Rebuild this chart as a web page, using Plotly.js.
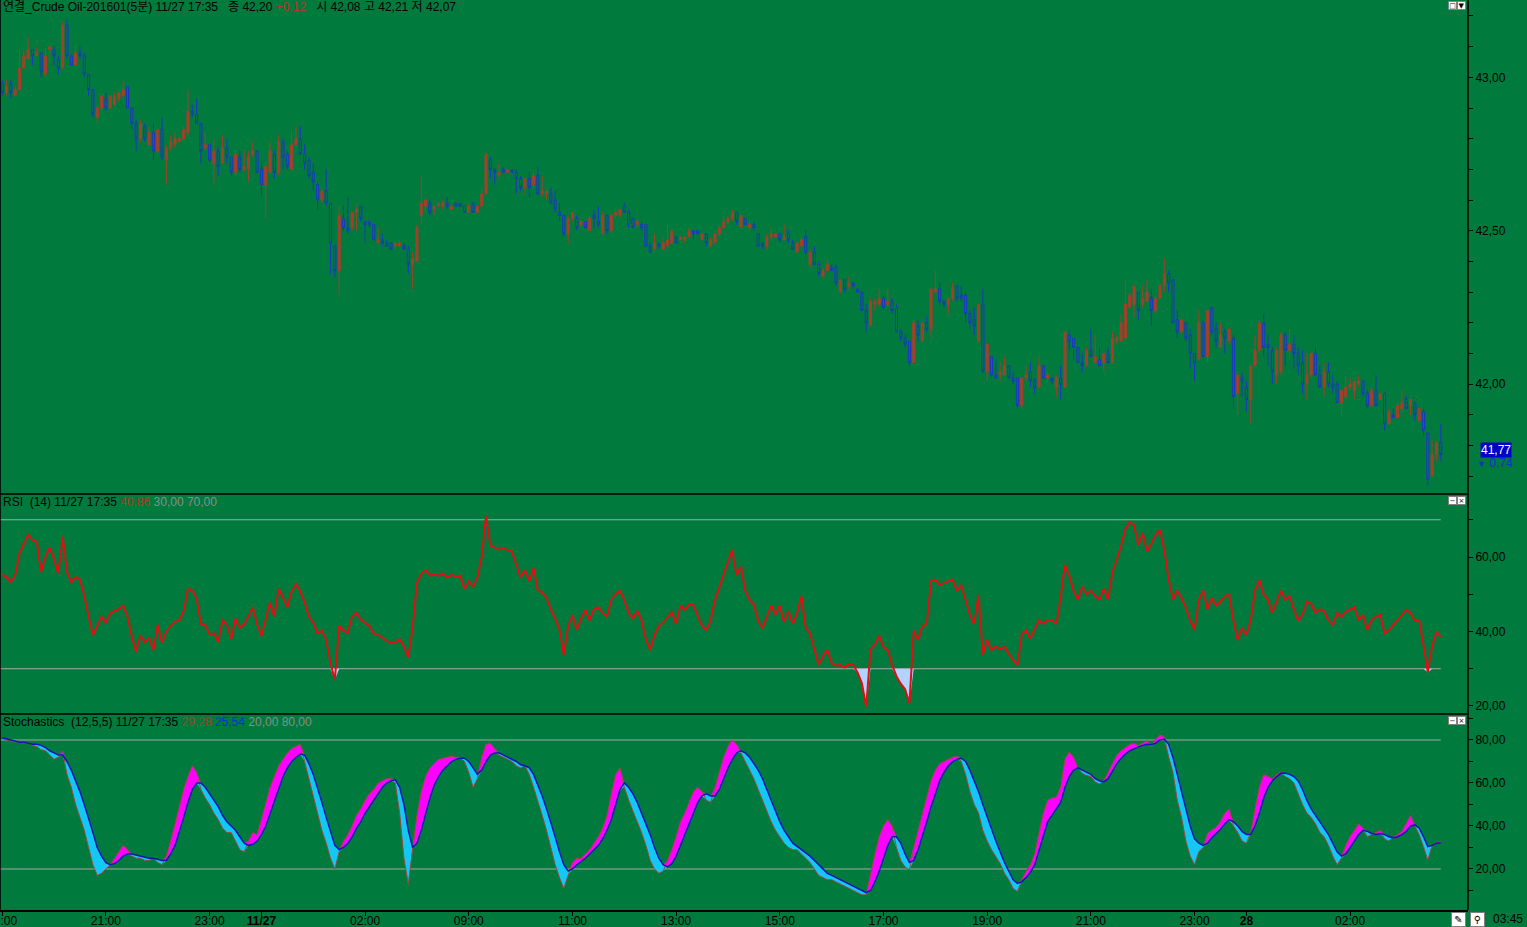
<!DOCTYPE html>
<html>
<head>
<meta charset="utf-8">
<script src="https://cdn.plot.ly/plotly-3.0.1.min.js"></script>
<style>
    html, body { margin: 0; padding: 0; background: #007A3D; }
    #chart { width: 1527px; height: 927px; }
</style>
</head>
<body>
<div id="chart"></div>
<script>
// 5-minute bars, 11/26 19:00 .. 11/28 03:45 (session break after 11/27 02:55)
const open = [
    42.98,42.95,42.98,42.94,42.96,43.03,43.06,43.09,43.07,43.08, 43.01,43.09,43.09,43.06,43.03,43.17,43.07,43.04,43.08,43.07,
    43.01,42.96,42.87,42.90,42.93,42.90,42.91,42.93,42.94,42.97, 42.90,42.85,42.80,42.84,42.78,42.82,42.76,42.83,42.73,42.77,
    42.78,42.79,42.80,42.82,42.89,42.88,42.85,42.77,42.78,42.72, 42.76,42.72,42.77,42.74,42.69,42.74,42.70,42.70,42.75,42.76,
    42.70,42.65,42.69,42.75,42.69,42.79,42.75,42.70,42.78,42.80, 42.75,42.73,42.69,42.65,42.60,42.63,42.59,42.45,42.37,42.54,
    42.51,42.51,42.56,42.58,42.53,42.53,42.52,42.46,42.47,42.46, 42.46,42.45,42.45,42.45,42.44,42.39,42.40,42.55,42.58,42.59,
    42.57,42.58,42.58,42.59,42.57,42.59,42.59,42.58,42.56,42.59, 42.56,42.58,42.62,42.73,42.70,42.68,42.70,42.69,42.70,42.69,
    42.67,42.64,42.67,42.65,42.68,42.62,42.62,42.62,42.60,42.56, 42.55,42.49,42.54,42.54,42.52,42.53,42.50,42.55,42.53,42.49,
    42.55,42.50,42.55,42.55,42.58,42.56,42.54,42.52,42.52,42.52, 42.45,42.44,42.46,42.44,42.45,42.46,42.48,42.47,42.47,42.48,
    42.50,42.50,42.47,42.49,42.45,42.46,42.49,42.51,42.53,42.54, 42.56,42.51,42.54,42.51,42.52,42.49,42.46,42.45,42.48,42.48,
    42.49,42.47,42.49,42.46,42.43,42.45,42.48,42.39,42.43,42.39, 42.35,42.37,42.38,42.38,42.30,42.34,42.32,42.33,42.31,42.30,
    42.24,42.19,42.26,42.26,42.28,42.26,42.27,42.25,42.17,42.15, 42.14,42.07,42.19,42.14,42.20,42.18,42.30,42.31,42.27,42.26,
    42.28,42.32,42.29,42.29,42.23,42.21,42.14,42.26,42.04,42.09, 42.03,42.03,42.03,42.06,42.02,42.02,41.93,42.02,42.04,42.01,
    41.99,42.06,42.02,42.02,41.99,42.02,41.99,42.16,42.15,42.12, 42.07,42.06,42.11,42.07,42.08,42.07,42.10,42.07,42.14,42.14,
    42.15,42.25,42.26,42.30,42.26,42.27,42.28,42.24,42.28,42.32, 42.36,42.34,42.21,42.17,42.20,42.16,42.10,42.08,42.20,42.09,
    42.25,42.18,42.12,42.17,42.14,42.15,41.97,42.02,41.99,41.95, 42.06,42.11,42.20,42.13,42.11,42.03,42.04,42.16,42.11,42.13,
    42.10,42.07,42.00,42.03,42.10,42.03,41.99,42.04,42.00,42.00, 41.94,41.96,41.99,41.98,42.00,42.01,41.97,41.93,41.98,41.95,
    41.97,41.87,41.90,41.89,41.92,41.95,41.93,41.94,41.88,41.91, 41.84,41.70,41.77,41.81
]
const high = [
    42.99,42.99,42.99,42.97,43.09,43.09,43.13,43.09,43.10,43.08, 43.10,43.10,43.10,43.07,43.18,43.19,43.07,43.11,43.10,43.08,
    43.01,42.96,42.91,42.94,42.95,42.94,42.95,42.95,42.99,42.97, 42.90,42.86,42.86,42.85,42.84,42.85,42.83,42.87,42.78,42.81,
    42.82,42.81,42.84,42.96,42.91,42.93,42.85,42.82,42.78,42.80, 42.77,42.81,42.80,42.74,42.76,42.76,42.76,42.76,42.79,42.76,
    42.72,42.72,42.79,42.76,42.81,42.80,42.76,42.83,42.84,42.84, 42.78,42.74,42.72,42.66,42.63,42.70,42.59,42.45,42.58,42.58,
    42.61,42.56,42.58,42.58,42.53,42.53,42.52,42.51,42.49,42.47, 42.46,42.46,42.47,42.46,42.45,42.43,42.52,42.68,42.61,42.60,
    42.58,42.59,42.60,42.61,42.58,42.59,42.59,42.58,42.59,42.59, 42.58,42.64,42.75,42.74,42.70,42.72,42.71,42.70,42.70,42.70,
    42.68,42.67,42.69,42.69,42.71,42.68,42.63,42.64,42.63,42.59, 42.55,42.55,42.56,42.55,42.53,42.53,42.55,42.57,42.58,42.56,
    42.55,42.56,42.56,42.57,42.59,42.57,42.54,42.54,42.53,42.52, 42.46,42.49,42.46,42.48,42.52,42.50,42.48,42.48,42.48,42.51,
    42.50,42.50,42.49,42.49,42.48,42.49,42.52,42.55,42.55,42.57, 42.56,42.55,42.54,42.53,42.53,42.49,42.46,42.49,42.51,42.49,
    42.49,42.52,42.50,42.47,42.46,42.48,42.50,42.44,42.45,42.40, 42.38,42.41,42.39,42.39,42.34,42.34,42.35,42.33,42.31,42.30,
    42.26,42.28,42.28,42.31,42.29,42.31,42.28,42.26,42.18,42.16, 42.14,42.21,42.21,42.20,42.22,42.31,42.37,42.33,42.27,42.28,
    42.33,42.32,42.32,42.30,42.24,42.25,42.26,42.31,42.13,42.09, 42.08,42.07,42.09,42.06,42.04,42.02,42.02,42.06,42.07,42.02,
    42.09,42.06,42.04,42.02,42.03,42.06,42.17,42.18,42.15,42.12, 42.10,42.12,42.18,42.16,42.12,42.10,42.12,42.17,42.16,42.23,
    42.34,42.30,42.32,42.30,42.32,42.34,42.31,42.29,42.33,42.41, 42.37,42.34,42.24,42.21,42.20,42.18,42.10,42.24,42.21,42.24,
    42.25,42.20,42.20,42.18,42.18,42.16,42.03,42.04,42.01,42.06, 42.16,42.21,42.23,42.16,42.12,42.12,42.17,42.17,42.18,42.16,
    42.12,42.11,42.10,42.10,42.12,42.06,42.07,42.07,42.03,42.01, 41.98,42.03,42.02,42.01,42.03,42.01,41.98,41.99,42.03,41.97,
    41.97,41.92,41.92,41.94,41.98,41.96,41.95,41.94,41.92,41.92, 41.84,41.82,41.81,41.87
]
const low = [
    42.94,42.94,42.93,42.94,42.96,43.03,43.06,43.04,43.07,43.00, 43.00,43.05,43.04,43.01,43.03,43.06,43.04,43.04,43.06,43.00,
    42.94,42.87,42.85,42.89,42.89,42.90,42.91,42.92,42.93,42.90, 42.83,42.76,42.79,42.79,42.78,42.73,42.75,42.73,42.65,42.76,
    42.77,42.79,42.80,42.81,42.87,42.85,42.72,42.76,42.72,42.65, 42.68,42.72,42.72,42.68,42.68,42.69,42.69,42.66,42.74,42.69,
    42.61,42.54,42.69,42.67,42.68,42.70,42.70,42.70,42.78,42.75, 42.70,42.67,42.63,42.57,42.59,42.58,42.36,42.35,42.29,42.50,
    42.49,42.50,42.50,42.53,42.46,42.51,42.47,42.46,42.45,42.45, 42.44,42.44,42.45,42.44,42.36,42.31,42.40,42.52,42.56,42.55,
    42.55,42.58,42.57,42.57,42.57,42.58,42.58,42.56,42.56,42.56, 42.56,42.58,42.62,42.67,42.65,42.67,42.69,42.69,42.69,42.62,
    42.63,42.62,42.61,42.64,42.62,42.61,42.60,42.59,42.56,42.53, 42.48,42.46,42.53,42.50,42.51,42.51,42.50,42.51,42.51,42.49,
    42.49,42.49,42.54,42.54,42.56,42.51,42.51,42.51,42.50,42.45, 42.43,42.44,42.44,42.44,42.45,42.46,42.46,42.47,42.46,42.48,
    42.47,42.49,42.47,42.45,42.45,42.46,42.48,42.51,42.52,42.53, 42.52,42.51,42.52,42.50,42.50,42.45,42.44,42.44,42.47,42.48,
    42.46,42.47,42.46,42.44,42.43,42.45,42.42,42.38,42.39,42.35, 42.35,42.37,42.37,42.32,42.30,42.30,42.31,42.31,42.30,42.24,
    42.17,42.19,42.24,42.25,42.24,42.25,42.23,42.17,42.14,42.12, 42.06,42.07,42.14,42.14,42.17,42.15,42.30,42.26,42.25,42.23,
    42.27,42.27,42.27,42.20,42.18,42.16,42.14,42.04,42.01,42.02, 42.02,42.01,42.03,42.02,42.00,41.92,41.92,42.01,41.99,41.97,
    41.99,42.02,42.01,42.00,41.96,41.95,41.99,42.11,42.08,42.07, 42.04,42.06,42.09,42.07,42.06,42.04,42.07,42.07,42.13,42.14,
    42.15,42.25,42.22,42.21,42.25,42.27,42.19,42.23,42.28,42.30, 42.30,42.20,42.15,42.17,42.14,42.05,42.01,42.08,42.09,42.07,
    42.16,42.12,42.12,42.10,42.13,41.92,41.90,41.96,41.91,41.87, 42.06,42.10,42.09,42.06,42.00,42.00,42.03,42.06,42.08,42.05,
    42.03,41.97,41.95,42.02,42.03,41.99,41.96,41.99,41.97,41.94, 41.90,41.95,41.98,41.95,41.99,41.96,41.92,41.93,41.93,41.95,
    41.85,41.87,41.89,41.89,41.91,41.92,41.90,41.88,41.88,41.83, 41.67,41.70,41.75,41.75
]
const close = [
    42.95,42.97,42.95,42.96,43.03,43.07,43.09,43.07,43.08,43.02, 43.07,43.10,43.07,43.03,43.17,43.07,43.04,43.08,43.07,43.01,
    42.96,42.88,42.90,42.94,42.90,42.94,42.94,42.95,42.96,42.90, 42.85,42.80,42.85,42.80,42.82,42.76,42.83,42.74,42.77,42.79,
    42.80,42.80,42.83,42.89,42.88,42.85,42.76,42.78,42.73,42.76, 42.71,42.77,42.74,42.69,42.75,42.70,42.71,42.74,42.76,42.69,
    42.65,42.71,42.76,42.69,42.79,42.74,42.71,42.78,42.80,42.75, 42.72,42.68,42.66,42.60,42.63,42.59,42.46,42.37,42.55,42.51,
    42.50,42.56,42.57,42.54,42.52,42.52,42.47,42.47,42.46,42.45, 42.44,42.46,42.46,42.44,42.39,42.41,42.51,42.59,42.60,42.56,
    42.58,42.59,42.59,42.58,42.58,42.58,42.58,42.56,42.58,42.56, 42.58,42.62,42.75,42.70,42.69,42.69,42.69,42.70,42.69,42.67,
    42.64,42.67,42.64,42.68,42.62,42.63,42.63,42.59,42.57,42.55, 42.49,42.54,42.56,42.51,42.53,42.51,42.54,42.54,42.52,42.55,
    42.50,42.55,42.56,42.57,42.56,42.52,42.51,42.53,42.51,42.45, 42.43,42.46,42.45,42.46,42.47,42.50,42.46,42.48,42.48,42.50,
    42.49,42.49,42.49,42.46,42.47,42.49,42.51,42.53,42.54,42.56, 42.53,42.55,42.52,42.52,42.51,42.45,42.45,42.48,42.49,42.49,
    42.47,42.48,42.47,42.44,42.46,42.47,42.43,42.43,42.39,42.36, 42.37,42.39,42.37,42.33,42.34,42.31,42.33,42.32,42.30,42.24,
    42.20,42.27,42.27,42.28,42.25,42.27,42.24,42.17,42.15,42.13, 42.07,42.20,42.16,42.20,42.18,42.31,42.31,42.27,42.26,42.28,
    42.31,42.28,42.28,42.23,42.20,42.19,42.26,42.04,42.13,42.03, 42.02,42.04,42.06,42.02,42.01,41.93,42.02,42.03,42.01,41.99,
    42.06,42.02,42.03,42.01,42.02,42.00,42.17,42.14,42.12,42.07, 42.06,42.11,42.09,42.09,42.06,42.10,42.07,42.15,42.15,42.20,
    42.26,42.29,42.32,42.24,42.28,42.30,42.24,42.28,42.32,42.36, 42.33,42.20,42.17,42.21,42.15,42.10,42.07,42.20,42.09,42.24,
    42.17,42.14,42.16,42.15,42.18,41.96,42.03,42.01,41.95,42.06, 42.11,42.20,42.12,42.12,42.04,42.11,42.16,42.11,42.13,42.10,
    42.06,42.00,42.03,42.10,42.03,41.99,42.04,42.00,41.99,41.94, 41.98,41.99,42.00,42.01,42.01,41.97,41.93,41.98,41.93,41.97,
    41.87,41.91,41.89,41.93,41.94,41.92,41.95,41.90,41.92,41.85, 41.69,41.77,41.81,41.77
]

// RSI(14)
const rsi = [
    55.3,54.6,53.3,55.0,61.0,63.5,66.0,64.5,64.1,56.0, 60.0,62.5,59.5,55.5,65.5,56.0,53.2,54.6,54.0,49.5,
    44.0,39.0,41.5,44.0,42.4,44.9,45.5,46.0,47.0,44.0, 38.8,34.5,39.0,37.0,38.3,35.0,41.8,37.0,40.0,41.5,
    42.6,42.9,45.5,51.5,51.0,49.0,42.0,41.7,39.3,39.5, 37.2,43.0,42.0,38.0,43.5,41.0,42.0,44.0,46.5,42.0,
    38.8,43.2,47.8,44.0,51.5,49.2,46.5,50.8,52.7,50.8, 47.8,44.0,42.5,39.5,40.3,37.8,31.5,27.0,41.5,40.2,
    39.6,44.0,45.0,43.2,42.3,41.5,39.5,39.1,38.4,37.5, 36.9,37.0,38.0,36.0,33.0,41.0,53.0,55.5,56.5,55.0,
    55.3,55.0,55.5,54.5,55.2,54.8,55.0,51.5,53.5,52.0, 54.5,60.0,71.0,63.0,62.5,62.0,62.3,62.0,61.5,58.0,
    54.5,56.5,53.5,57.0,51.0,50.5,49.0,46.0,43.5,40.5, 33.7,41.5,44.4,40.4,43.5,45.8,43.0,46.0,46.5,45.0,
    44.0,48.5,50.0,51.0,48.5,45.0,43.5,45.5,43.0,38.0, 35.0,39.0,41.5,42.5,44.0,45.2,42.0,47.0,45.8,47.3,
    47.0,44.0,41.5,40.4,43.0,48.5,52.0,55.5,58.5,62.0, 55.0,57.5,51.0,48.5,47.3,43.0,40.8,44.0,47.0,44.5,
    47.0,42.5,45.5,42.0,45.0,49.5,41.0,39.5,35.0,31.0, 33.5,35.0,31.5,30.8,31.0,30.3,31.3,31.0,29.0,26.1,
    19.8,35.2,36.5,38.8,35.8,35.0,31.0,28.0,26.0,24.5, 20.7,40.2,37.7,41.5,41.8,53.5,54.0,52.5,53.0,53.5,
    54.0,51.0,52.5,48.5,44.4,42.0,49.8,33.7,37.7,35.0, 36.0,35.2,36.0,34.0,32.5,31.0,39.1,40.4,38.0,40.4,
    43.0,42.0,43.0,43.0,42.0,49.0,57.9,55.0,51.0,48.5, 52.0,50.0,51.0,49.5,48.5,51.5,48.5,56.0,59.2,63.0,
    67.5,69.4,68.5,63.2,66.5,61.5,63.5,66.0,67.2,62.0, 54.0,48.5,51.0,49.0,46.5,43.0,40.4,48.5,51.0,46.0,
    49.0,47.0,48.0,49.5,50.0,43.0,37.7,41.0,39.0,43.0, 51.0,53.8,50.0,48.5,45.0,48.0,51.0,48.5,49.5,46.0,
    43.0,44.5,48.0,47.5,45.0,46.0,45.5,43.0,41.8,45.0, 44.0,45.3,46.0,46.5,43.0,44.5,40.4,43.0,44.0,44.5,
    39.5,40.4,41.8,43.0,44.4,45.8,45.0,43.0,43.0,36.4, 29.0,36.0,39.9,38.5
]

// Stochastics (12,5,5): slow %K and %D
const stochK = [
    81,80,79.5,79,79.5,79,78.5,77.5,77,75.5, 75,73,71,72,75,64,58,50,44,38,
    30,22,17,18,20,22,25,28,31,29, 26,25,25,24,24,25,23,22,26,33,
    41,49,57,63,68,65,57,53,50,46, 43,39,37,37,33,29,28,33,37,36,
    43,50,58,63,68,71,74,76,77,78, 70,62,54,45,38,32,25,20,28,33,
    36,40,45,48,52,55,57,60,61,62, 62,60,46,25,13,30,45,56,63,67,
    69,71,71.5,72,72.5,72,72,70,65,58, 62,72,78,78.5,76,73,72,71,70,68,
    67,68,64,58,52,45,38,30,22,16, 11,17,23,25,25,27,29,32,35,39,
    45,55,64,67,58,52,47,42,37,31, 24,20,18,19,24,29,35,42,46,51,
    56,58,56,52,51,58,65,72,77,80, 78,74,70,66,62,57,52,47,42,38,
    35,32,30,29,29,27,25,23,20,17, 16,15,15,14,13,12,11,10,9,8,
    8,18,27,35,40,43,40,30,24,21, 19.5,30,38,46,54,61,66,69,70,71,
    72,72.5,70,64,56,50,46,38,33,29, 26,22.6,18,15,11,9.5,15,19,22,27,
    37,46,52,53,53.5,58,71,74.5,72,67, 64.5,63.5,63,60.5,59.5,61,65,69,73,75,
    76.5,78,78.4,77.5,78.5,79.7,77,80.5,82.3,81.5, 72,65,52,44,33,26,22,28,30,36.6,
    38,39.5,42,46,48,40,37,33,32,37, 48,58,64,63,62,64,65,63,62,60,
    55,50,46,44,41,37,35,31,26,22, 25,31,35,38,41,39,35,36,37,38,
    34,33,35,36,37.5,41,45,40,36,30.4, 24.2,31,32.5,32.7
]
const stochD = [
    81,80.5,80,79.5,79,79,78.5,78,78,77.5, 76.5,75,74,73,73,70,66,61,56,50,
    44,37,30,26,23,22,22.5,24,26,27, 27,26.5,26,25.5,25,25,24.5,24,24,27,
    31,37,44,51,57,60,60,58,55,52, 49,45,42,40,38,35,32,31,31.5,33,
    36,40,46,52,58,63,67,70,72,73.5, 73,69,64,58,51,44,37,31,29,30,
    32,35,39,42,46,49,52,55,58,60, 61,61.5,58,50,38,30,32,38,46,53,
    59,63,66,68,70,71,71.5,71.5,70,67, 64,66,70,73,74,74,73,72,71,70,
    68.5,68,67,64,59,54,48,42,35,28, 22,19,20,22,23.5,25,27,29,31,34,
    38,43,50,57,60,58,55,51,46,41, 36,30,25,22,21,22.5,26,31,36,41,
    46,51,54,55,54,54,57,62,67,71, 74,75,74,72,69,66,62,57,52,47,
    42,38,35,32,30.5,29,27.5,26,24,22, 20,18,17,16,15,14,13,12,11,10,
    9,10,14,19,25,31,35,35,32,27, 23,24,29,35,42,49,55,61,65,68,
    70,71,71.5,70,66,61,56,50,44,38, 33,28,23,19,15,13.3,14,16,18.5,22,
    29,36,42,45,48,51,58,63,66,67, 66,65,64,62,61,60.5,62,65.5,69,71.5,
    73.5,75,76,76.8,77.5,78,77.8,78.5,80,80.3, 78,72,64,56,47,40,34,32,31,32,
    34.5,36.5,38.5,41,43,42,40,37.5,36,36, 40,46,53,58,61,63,64.5,64.5,64,63,
    61,57,52,48,45,42,39,36,32,28, 26,27,30,33,36,38,37.5,36.5,36,36.5,
    36,35,34.5,35,36,37.5,40,40.5,39,35, 30.4,31,32,32.2
]

const rsiLevels = [30, 70]
const stochLevels = [20, 80]

// time axis labels (bar number -> label)
const tickBars = [0, 24, 48, 60, 84, 108, 132, 156, 180, 204, 228, 252, 276, 288, 312]
const tickLabels = ['19:00', '21:00', '23:00', '<b>11/27</b>', '02:00', '09:00', '11:00', '13:00',
    '15:00', '17:00', '19:00', '21:00', '23:00', '<b>28</b>', '02:00']

const lastPrice = 41.77
const lastChange = '0,74'

// colours
const BG = '#007A3D'
const UP = '#A2402A'
const DOWN = '#1A38C4'
const RSI_RED = '#DD1111'
const GRAY = '#A8A8A8'

// domains (fractions of the plot height)
const priceDomain = [0.4582, 1]
const rsiDomain = [0.2165, 0.4560]
const stochDomain = [0, 0.2143]

const bars = close.map((_, i) => i)
const lastBar = bars[bars.length - 1]

// helper series for the fills
const rsiBase = rsi.map(() => rsiLevels[0])
const rsiUnder = rsi.map(v => Math.min(v, rsiLevels[0]))
const kHigh = stochK.map((k, i) => Math.max(k, stochD[i]))
const kLow = stochK.map((k, i) => Math.min(k, stochD[i]))

function flat(y, yaxis, extra) {
    return Object.assign({
        type: 'scatter', mode: 'lines', x: bars, y: y, yaxis: yaxis,
        line: {width: 0, color: 'rgba(0,0,0,0)'}, hoverinfo: 'skip', showlegend: false
    }, extra || {})
}

const plotData = [
    {
        type: 'candlestick',
        x: bars, open: open, high: high, low: low, close: close,
        yaxis: 'y',
        increasing: {line: {color: UP, width: 1}, fillcolor: UP},
        decreasing: {line: {color: DOWN, width: 1}, fillcolor: 'rgba(0,0,0,0)'},
        whiskerwidth: 0,
        hoverinfo: 'skip',
        showlegend: false
    },
    // RSI below 30 fill
    flat(rsiBase, 'y2'),
    flat(rsiUnder, 'y2', {fill: 'tonexty', fillcolor: '#B4D2FF'}),
    {type: 'scatter', mode: 'lines', x: bars, y: rsi, yaxis: 'y2',
        line: {color: RSI_RED, width: 2}, hoverinfo: 'skip', showlegend: false},
    // stochastics: magenta where %K > %D, cyan where %K < %D
    flat(stochD, 'y3'),
    flat(kHigh, 'y3', {fill: 'tonexty', fillcolor: '#FF00FF'}),
    flat(kLow, 'y3'),
    flat(stochD, 'y3', {fill: 'tonexty', fillcolor: '#14C8F5'}),
    {type: 'scatter', mode: 'lines', x: bars, y: stochK, yaxis: 'y3',
        line: {color: '#9A4A3A', width: 1}, hoverinfo: 'skip', showlegend: false},
    {type: 'scatter', mode: 'lines', x: bars, y: stochD, yaxis: 'y3',
        line: {color: '#1414B4', width: 1.5}, hoverinfo: 'skip', showlegend: false}
]

const axisFont = {family: 'Liberation Sans, Arial, sans-serif', size: 12, color: '#000'}

function rightAxis(domain, range, dtick, minorDtick, tick0) {
    return {
        domain: domain, range: range, side: 'right', anchor: 'x',
        showgrid: false, zeroline: false, showline: false,
        tickmode: 'linear', tick0: tick0, dtick: dtick, tickformat: '.2f',
        ticks: 'outside', ticklen: 4, tickcolor: '#000', tickwidth: 1,
        tickfont: axisFont,
        minor: {tickmode: 'linear', tick0: tick0, dtick: minorDtick, ticks: 'outside',
            ticklen: 4, tickcolor: '#000', showgrid: false},
        fixedrange: true
    }
}

const shapes = []
rsiLevels.forEach(v => shapes.push({type: 'line', xref: 'x', yref: 'y2', x0: -0.5, x1: lastBar, y0: v, y1: v,
    line: {color: GRAY, width: 1}, layer: 'below'}))
stochLevels.forEach(v => shapes.push({type: 'line', xref: 'x', yref: 'y3', x0: -0.5, x1: lastBar, y0: v, y1: v,
    line: {color: GRAY, width: 1}, layer: 'below'}))
// panel borders
;[priceDomain[0] - 0.0011, rsiDomain[0] - 0.0011].forEach(y => shapes.push({type: 'line', xref: 'paper', yref: 'paper',
    x0: 0, x1: 1, y0: y, y1: y, line: {color: '#000', width: 1.5}}))
shapes.push({type: 'line', xref: 'paper', yref: 'paper', x0: 0, x1: 0, y0: 0, y1: 1, line: {color: '#000', width: 1.5}})
shapes.push({type: 'line', xref: 'paper', yref: 'paper', x0: 1, x1: 1, y0: 0, y1: 1, line: {color: '#000', width: 1.5}})

const titleFont = {family: 'Liberation Sans, "Noto Sans CJK KR", sans-serif', size: 12, color: '#000'}

function panelTitle(text, y) {
    return {xref: 'paper', yref: 'paper', x: 0, y: y, xanchor: 'left', yanchor: 'top', xshift: 1, yshift: 2,
        text: text, showarrow: false, font: titleFont, align: 'left'}
}

function button(glyph, y, xshift) {
    return {xref: 'paper', yref: 'paper', x: 1, y: y, xanchor: 'right', yanchor: 'top', xshift: xshift, yshift: -1,
        text: glyph, showarrow: false, bgcolor: '#FFFFFF', bordercolor: '#808080', borderwidth: 1, borderpad: 0,
        width: 7, height: 7, font: {family: 'DejaVu Sans, sans-serif', size: 7, color: '#000'}}
}

const annotations = [
    panelTitle('연결_Crude Oil-201601(5분) 11/27 17:35   종 42,20 <span style="color:#B03A22">+0,12</span>   시 42,08 고 42,21 저 42,07', 1),
    panelTitle('RSI  (14) 11/27 17:35 <span style="color:#B03A22">40,86</span> <span style="color:#8C8C8C">30,00 70,00</span>', rsiDomain[1]),
    panelTitle('Stochastics  (12,5,5) 11/27 17:35 <span style="color:#A0402A">29,28</span> <span style="color:#1030D0">25,54</span> <span style="color:#8C8C8C">20,00 80,00</span>', stochDomain[1]),
    button('□', 1, -11), button('▼', 1, -2),
    button('−', rsiDomain[1], -11), button('×', rsiDomain[1], -2),
    button('−', stochDomain[1], -11), button('×', stochDomain[1], -2),
    {xref: 'paper', yref: 'y', x: 1, y: lastPrice, xanchor: 'left', yanchor: 'middle', xshift: 12, yshift: 5,
        text: lastPrice.toFixed(2).replace('.', ','), showarrow: false, bgcolor: '#0000C8', borderpad: 0,
        font: {family: 'Liberation Sans, Arial, sans-serif', size: 12, color: '#FFFFFF'}},
    {xref: 'paper', yref: 'y', x: 1, y: lastPrice, xanchor: 'left', yanchor: 'middle', xshift: 7, yshift: -8,
        text: '<span style="font-size:9px">▼</span> ' + lastChange, showarrow: false,
        font: {family: 'Liberation Sans, DejaVu Sans, sans-serif', size: 12, color: '#1030D0'}},
    {xref: 'paper', yref: 'paper', x: 1, y: 0, xanchor: 'left', yanchor: 'middle', xshift: 23, yshift: -9,
        text: '03:45', showarrow: false, font: axisFont},
    {xref: 'paper', yref: 'paper', x: 1, y: 0, xanchor: 'right', yanchor: 'middle', xshift: -2, yshift: -9,
        text: '✎', showarrow: false, bgcolor: '#FFFFFF', bordercolor: '#808080', borderwidth: 1, borderpad: 0,
        width: 13, height: 13, font: {family: 'DejaVu Sans, sans-serif', size: 10, color: '#000'}},
    {xref: 'paper', yref: 'paper', x: 1, y: 0, xanchor: 'left', yanchor: 'middle', xshift: 2, yshift: -9,
        text: '⚲', showarrow: false, bgcolor: '#FFFFFF', bordercolor: '#808080', borderwidth: 1, borderpad: 0,
        width: 13, height: 13, font: {family: 'DejaVu Sans, sans-serif', size: 10, color: '#000'}}
]

const plotLayout = {
    width: 1527,
    height: 927,
    margin: {l: 0, r: 59, t: 0, b: 17},
    paper_bgcolor: BG,
    plot_bgcolor: BG,
    showlegend: false,
    hovermode: false,
    dragmode: false,
    separators: ', ',
    font: {family: 'Liberation Sans, Arial, sans-serif', size: 12, color: '#000'},
    xaxis: {
        domain: [0, 1], anchor: 'y3', range: [-0.51, 339.3],
        showgrid: false, zeroline: false, showline: true, linecolor: '#000', linewidth: 1.5,
        tickmode: 'array', tickvals: tickBars, ticktext: tickLabels,
        ticks: 'outside', ticklen: 4, tickcolor: '#000',
        ticklabelstandoff: -5, ticklabeloverflow: 'allow',
        tickfont: axisFont,
        rangeslider: {visible: false}, fixedrange: true
    },
    yaxis: rightAxis(priceDomain, [41.645, 43.252], 0.5, 0.1, 42),
    yaxis2: rightAxis(rsiDomain, [18.12, 76.64], 20, 10, 0),
    yaxis3: rightAxis(stochDomain, [0.93, 91.63], 20, 10, 0),
    shapes: shapes,
    annotations: annotations
}

Plotly.newPlot('chart', plotData, plotLayout, {displayModeBar: false, staticPlot: true})
</script>
</body>
</html>
